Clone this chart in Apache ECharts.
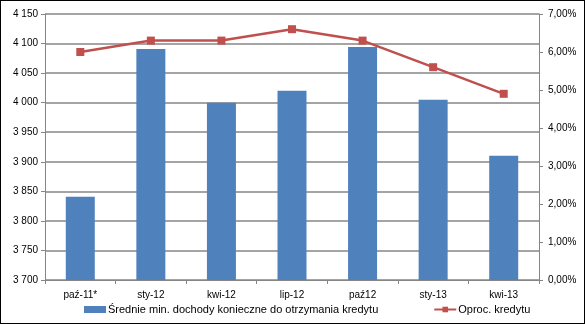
<!DOCTYPE html>
<html>
<head>
<meta charset="utf-8">
<script src="https://cdn.jsdelivr.net/npm/echarts@6/dist/echarts.min.js"></script>
<style>
  html, body { margin: 0; padding: 0; background: #fff; }
  #chart { width: 583px; height: 322px; border: 1px solid #000; }
</style>
</head>
<body>
<div id="chart"></div>
<script>
// Quarterly categories
const categories = ['paź-11*', 'sty-12', 'kwi-12', 'lip-12', 'paź12', 'sty-13', 'kwi-13'];
// Average minimum income required to get a loan (PLN)
const incomeValues = [3841, 4091, 4000, 4020, 4094, 4005, 3910];
// Loan interest rate (%)
const rateValues = [6.0, 6.3, 6.3, 6.6, 6.3, 5.6, 4.9];

const incomeName = 'Średnie min. dochody konieczne do otrzymania kredytu';
const rateName = 'Oproc. kredytu';

const gridColor = '#868686';
const font = 'Liberation Sans, Arial, sans-serif';

const chart = echarts.init(document.getElementById('chart'));
chart.setOption({
  animation: false,
  textStyle: { fontFamily: font },
  grid: { left: 44, right: 45, top: 13, bottom: 43 },
  legend: {
    bottom: 3,
    left: 78,
    itemGap: 55,
    itemWidth: 22,
    itemHeight: 7,
    textStyle: { fontFamily: font, fontSize: 11, color: '#000', padding: [0, 0, 0, -3] },
    data: [
      { name: incomeName, icon: 'rect' },
      { name: rateName }
    ]
  },
  xAxis: {
    type: 'category',
    data: categories,
    axisLine: { lineStyle: { color: gridColor, width: 1 } },
    axisTick: { show: true, length: 4, lineStyle: { color: gridColor } },
    axisLabel: { color: '#000', fontSize: 10, fontFamily: font, margin: 10 }
  },
  yAxis: [
    {
      type: 'value',
      min: 3700,
      max: 4150,
      interval: 50,
      axisLine: { show: true, lineStyle: { color: gridColor } },
      axisTick: { show: true, length: 4, lineStyle: { color: gridColor } },
      splitLine: { lineStyle: { color: gridColor, width: 1.5 } },
      axisLabel: {
        color: '#000', fontSize: 10, fontFamily: font, margin: 7,
        formatter: v => String(v).replace(/(\d)(\d{3})$/, '$1 $2')
      }
    },
    {
      type: 'value',
      min: 0,
      max: 7,
      interval: 1,
      position: 'right',
      axisLine: { show: true, lineStyle: { color: gridColor } },
      axisTick: { show: true, length: 4, lineStyle: { color: gridColor } },
      splitLine: { show: false },
      axisLabel: {
        color: '#000', fontSize: 10, fontFamily: font, margin: 9,
        formatter: v => v.toFixed(2).replace('.', ',') + '%'
      }
    }
  ],
  series: [
    {
      name: incomeName,
      type: 'bar',
      yAxisIndex: 0,
      data: incomeValues,
      barWidth: 29,
      itemStyle: { color: '#4F81BD' }
    },
    {
      name: rateName,
      type: 'line',
      yAxisIndex: 1,
      data: rateValues,
      symbol: 'rect',
      symbolSize: 8,
      lineStyle: { color: '#C0504D', width: 2.5 },
      itemStyle: { color: '#C0504D' }
    }
  ]
});
</script>
</body>
</html>
